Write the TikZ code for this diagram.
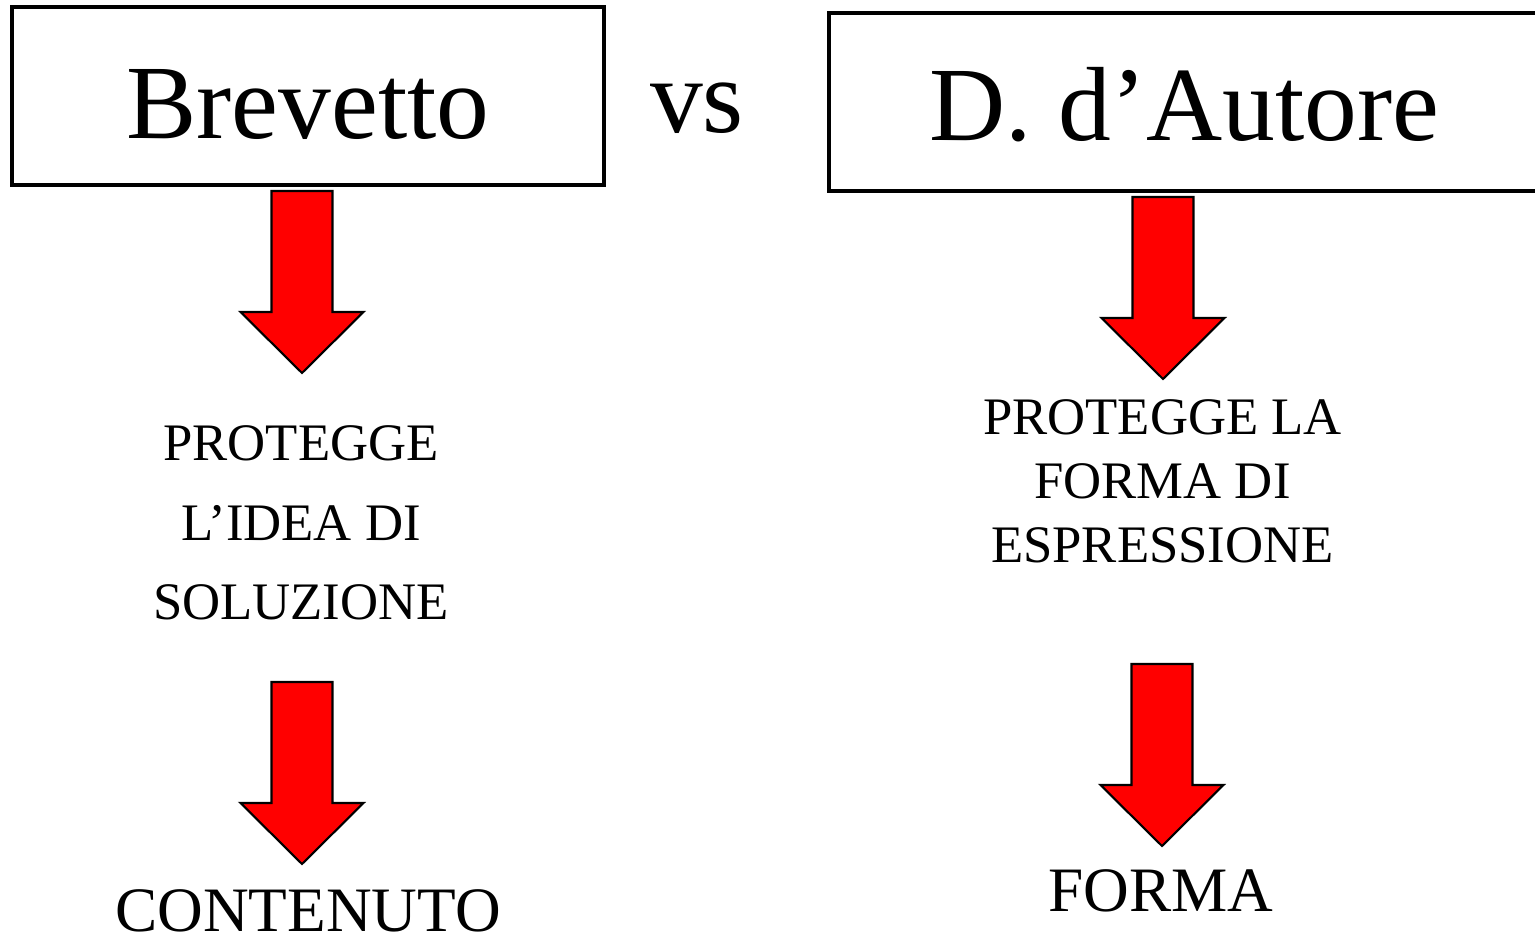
\documentclass[tikz,border=0pt]{standalone}
\usepackage{fontspec}
\setmainfont{Liberation Serif}
\usepackage{tikz}
\usetikzlibrary{positioning}
\definecolor{arrowred}{RGB}{255,0,0}
\tikzset{
  titlebox/.style={rectangle, draw=black, line width=0.9pt, inner sep=0pt,
    font=\fontsize{30}{36}\selectfont},
  midtext/.style={align=center, inner sep=0pt},
  bigtext/.style={inner sep=0pt, font=\fontsize{18}{22}\selectfont},
  redarrow/.style={fill=arrowred, draw=black, line width=0.6pt, line join=miter},
  pics/downarrow/.style={code={
    \filldraw[redarrow] (-0.305,0) -- (0.305,0) -- (0.305,-1.21) -- (0.615,-1.21)
      -- (0,-1.82) -- (-0.615,-1.21) -- (-0.305,-1.21) -- cycle;
  }}
}
\begin{document}
\begin{tikzpicture}
  \useasboundingbox (0,0) rectangle (15.35,-9.42);

  % Title boxes
  \node[titlebox, minimum width=5.92cm, text height=1.32cm, text depth=0.46cm]
    (brevetto) at (3.08,-0.96) {Brevetto};
  \node[titlebox, minimum width=7.11cm, text height=1.28cm, text depth=0.50cm]
    (autore) at (11.845,-1.02) {D. d’Autore};
  \node[anchor=base, inner sep=0pt, font=\fontsize{30}{36}\selectfont]
    (vs) at (6.97,-1.33) {vs};

  % Left column
  \pic at (3.02,-1.91) {downarrow};
  \node[midtext, font=\fontsize{15}{22.6}\selectfont] (idea) at (3.01,-5.23)
    {PROTEGGE\\L’IDEA DI\\SOLUZIONE};
  \pic at (3.02,-6.82) {downarrow};
  \node[bigtext, anchor=base] (contenuto) at (3.08,-9.32) {CONTENUTO};

  % Right column
  \pic at (11.63,-1.97) {downarrow};
  \node[midtext, font=\fontsize{15}{18.2}\selectfont] (espressione) at (11.625,-4.815)
    {PROTEGGE LA\\FORMA DI\\ESPRESSIONE};
  \pic at (11.62,-6.64) {downarrow};
  \node[bigtext, anchor=base] (forma) at (11.61,-9.12) {FORMA};

\end{tikzpicture}
\end{document}
